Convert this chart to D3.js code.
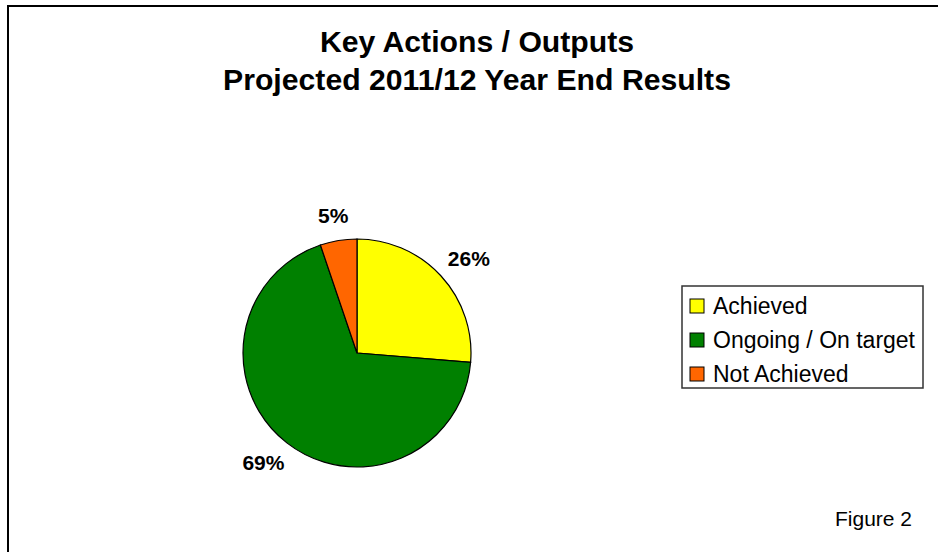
<!DOCTYPE html>
<html>
<head>
<script src="https://cdnjs.cloudflare.com/ajax/libs/d3/7.8.5/d3.min.js"></script>
<style>
  body { margin: 0; background: #fff; }
  text { font-family: Arial, "Liberation Sans", sans-serif; fill: #000; }
  .title { font-size: 30.2px; font-weight: bold; }
  .pct { font-size: 21px; font-weight: bold; }
  .leg { font-size: 23px; }
</style>
</head>
<body>
<svg id="chart"></svg>
<script>
var categories = ['Achieved', 'Ongoing / On target', 'Not Achieved'];
var values = [26.3, 68.5, 5.2];
var colours = ['#ffff00', '#008000', '#ff6600'];
var titleLines = ['Key Actions / Outputs', 'Projected 2011/12 Year End Results'];
var footnote = 'Figure 2';

var width = 938, height = 552;
var svg = d3.select('#chart').attr('width', width).attr('height', height);

// frame, runs off the right and bottom edges
svg.append('rect')
  .attr('x', 8).attr('y', 6)
  .attr('width', width + 20).attr('height', height + 20)
  .attr('fill', 'none').attr('stroke', '#000').attr('stroke-width', 2);

svg.selectAll('.title')
  .data(titleLines)
  .enter().append('text')
    .attr('class', 'title')
    .attr('x', 477)
    .attr('y', function(d, i) { return 52 + i * 38; })
    .attr('text-anchor', 'middle')
    .text(function(d) { return d; });

var cx = 357, cy = 353, r = 114;
var pie = d3.pie().sort(null).value(function(d) { return d; });
var arcs = pie(values);
var arc = d3.arc().innerRadius(0).outerRadius(r);

var g = svg.append('g').attr('transform', 'translate(' + cx + ',' + cy + ')');
g.selectAll('path')
  .data(arcs)
  .enter().append('path')
    .attr('d', arc)
    .attr('fill', function(d, i) { return colours[i]; })
    .attr('stroke', '#000')
    .attr('stroke-width', 1.2);

// percent labels sit outside the pie, pushed out by half their box
var total = d3.sum(values);
var labelR = r + 17;
g.selectAll('.pct')
  .data(arcs)
  .enter().append('text')
    .attr('class', 'pct')
    .attr('text-anchor', 'middle')
    .attr('dy', '0.35em')
    .text(function(d) { return Math.round(d.value / total * 100) + '%'; })
    .attr('transform', function(d) {
      var a = (d.startAngle + d.endAngle) / 2;
      var w = this.getComputedTextLength(), h = 16;
      var x = labelR * Math.sin(a) + w / 2 * Math.sin(a);
      var y = -labelR * Math.cos(a) - h / 2 * Math.cos(a);
      return 'translate(' + x + ',' + y + ')';
    });

// legend
var lx = 682, ly = 286, lw = 241, lh = 102;
svg.append('rect')
  .attr('x', lx).attr('y', ly).attr('width', lw).attr('height', lh)
  .attr('fill', '#fff').attr('stroke', '#333').attr('stroke-width', 1.5);
var item = svg.selectAll('.item')
  .data(categories)
  .enter().append('g')
    .attr('class', 'item')
    .attr('transform', function(d, i) { return 'translate(' + (lx + 8) + ',' + (ly + 20 + i * 34) + ')'; });
item.append('rect')
  .attr('x', 0).attr('y', -7).attr('width', 14).attr('height', 14)
  .attr('fill', function(d, i) { return colours[i]; })
  .attr('stroke', '#000').attr('stroke-width', 1);
item.append('text')
  .attr('class', 'leg')
  .attr('x', 23).attr('dy', '0.35em')
  .text(function(d) { return d; });

svg.append('text')
  .attr('x', 912).attr('y', 526)
  .attr('text-anchor', 'end')
  .style('font-size', '21px')
  .text(footnote);
</script>
</body>
</html>
